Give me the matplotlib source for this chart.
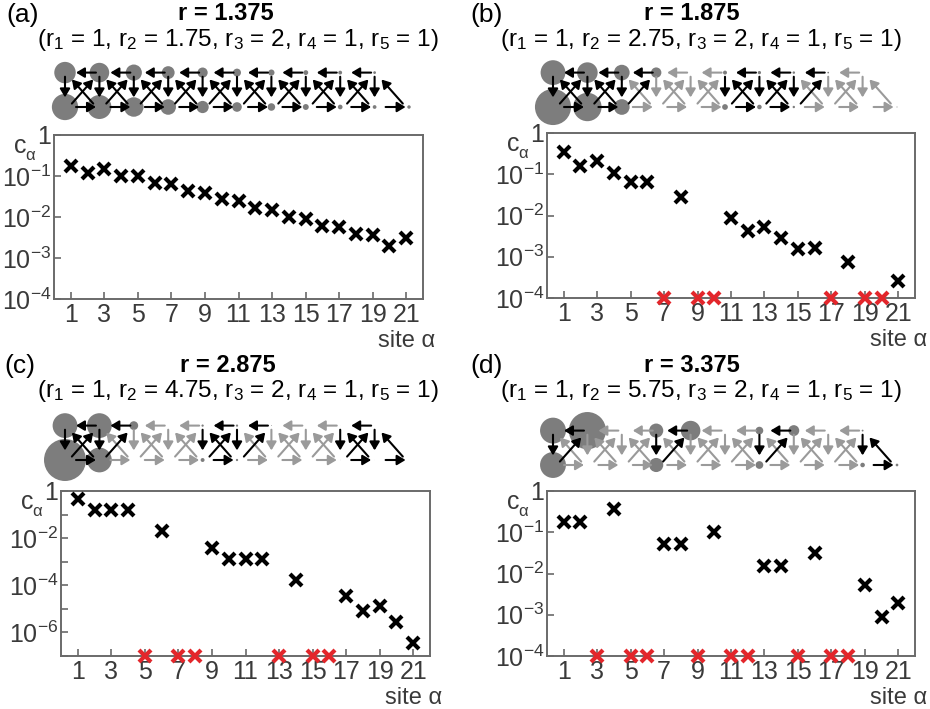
import matplotlib
matplotlib.use("Agg")
import matplotlib.pyplot as plt
import numpy as np
from matplotlib.patches import Circle, FancyArrowPatch
from matplotlib.ticker import FixedLocator, FuncFormatter, NullFormatter

plt.rcParams["font.family"] = ["Liberation Sans", "DejaVu Sans"]
plt.rcParams["mathtext.fontset"] = "custom"
plt.rcParams["mathtext.rm"] = "Liberation Sans"
plt.rcParams["mathtext.it"] = "Liberation Sans:italic"
plt.rcParams["mathtext.bf"] = "Liberation Sans:bold"

# ---- data (c_alpha per site, 0 = empty site) ----
sites = np.arange(1, 22)
c_a = [0.18, 0.12, 0.15, 0.10, 0.099, 0.068, 0.063, 0.043, 0.039, 0.027, 0.024,
       0.0165, 0.0148, 0.010, 0.0091, 0.0061, 0.0057, 0.0038, 0.0037, 0.0020, 0.0031]
c_b = [0.34, 0.16, 0.21, 0.11, 0.064, 0.064, 0, 0.028, 0, 0, 0.0086,
       0.0041, 0.0054, 0.0028, 0.0015, 0.0016, 0, 0.00073, 0, 0, 0.00026]
c_c = [0.46, 0.16, 0.16, 0.16, 0, 0.02, 0, 0, 0.004, 0.00136, 0.00136,
       0.00136, 0, 1.7e-4, 0, 0, 3.5e-5, 8e-6, 1.3e-5, 2.8e-6, 3.7e-7]
c_d = [0.175, 0.175, 0, 0.36, 0, 0, 0.052, 0.052, 0, 0.1, 0,
       0, 0.0156, 0.0156, 0, 0.031, 0, 0, 0.0054, 0.00089, 0.0019]

panel_labels = ["(a)", "(b)", "(c)", "(d)"]
r_totals = ["1.375", "1.875", "2.875", "3.375"]
r2_values = ["1.75", "2.75", "4.75", "5.75"]
y_mins = [1e-4, 1e-4, 1e-7, 1e-4]

W, H = 930, 709
GRAY_TXT = "#3a3a3a"
FRAME = "#6a6a6a"
NODE = "#7d7d7d"
EDGE_OFF = "#9a9a9a"
RED = "#e3262b"
UNIT = 34.4  # px between lattice columns


def px_box(l, t, r, b):
    return [l / W, 1 - b / H, (r - l) / W, (b - t) / H]


def site_xy(s):
    # odd sites on the bottom row, even sites on the top row
    if s % 2 == 1:
        return (s - 1) // 2, 0
    return (s - 2) // 2, 1


def lattice_edges():
    edges = []
    for i in range(9):
        edges.append(("h", 2 * i + 4, 2 * i + 2))   # top i+1 -> top i
        edges.append(("d", 2 * i + 1, 2 * i + 4))   # bottom i -> top i+1
        edges.append(("d", 2 * i + 3, 2 * i + 2))   # bottom i+1 -> top i
    for i in range(10):
        edges.append(("v", 2 * i + 2, 2 * i + 1))   # top i -> bottom i
        edges.append(("h", 2 * i + 1, 2 * i + 3))   # bottom i -> bottom i+1
    edges.append(("d", 21, 20))
    return edges


def draw_lattice(ax, c):
    for s, val in zip(sites, c):
        if val > 0:
            x, y = site_xy(s)
            ax.add_patch(Circle((x, y), 0.9 * np.sqrt(val), color=NODE, lw=0, zorder=1))
    for kind, a, b in lattice_edges():
        xa, ya = site_xy(a)
        xb, yb = site_xy(b)
        lo = min(xa, xb)
        if kind == "h":
            xs = (lo + 0.32, lo + 0.9) if xb > xa else (lo + 0.9, lo + 0.32)
            p0, p1 = (xs[0], ya), (xs[1], yb)
        elif kind == "v":
            p0, p1 = (xa, 0.88), (xa, 0.28)
        else:
            if xb > xa:
                p0, p1 = (lo + 0.2, 0.1), (lo + 0.82, 0.8)
            else:
                p0, p1 = (lo + 0.82, 0.1), (lo + 0.2, 0.8)
        on = c[a - 1] > 0 and c[b - 1] > 0
        ax.add_patch(FancyArrowPatch(
            p0, p1, arrowstyle="-|>,head_length=0.5,head_width=0.3",
            mutation_scale=10, lw=1.5, color="black" if on else EDGE_OFF,
            shrinkA=0, shrinkB=0, zorder=3 if on else 2))


def log_fmt(v, pos):
    e = int(round(np.log10(v)))
    if e == 0:
        return "1"
    return r"10$^{%d}$" % e


fig = plt.figure(figsize=(W / 100, H / 100), dpi=100)

plot_boxes = [(54, 135, 423, 299), (547, 133, 915, 298),
              (61, 491, 430, 656), (547, 491, 915, 656)]
lattice_origin = [(65, 107), (553, 107), (65, 460), (553, 465)]
label_pos = [(6, 15), (470, 15), (4, 366), (470, 366)]
title_x = [226, 692, 228, 692]
sub_x = [238, 701, 238, 701]
title_y = [14, 14, 365, 365]
all_c = [c_a, c_b, c_c, c_d]

for k in range(4):
    c = np.array(all_c[k], dtype=float)
    l, t, r, b = plot_boxes[k]
    ax = fig.add_axes(px_box(l, t, r, b))
    ymin = y_mins[k]
    nz = c > 0
    ax.plot(sites[nz], c[nz], "x", color="black", ms=8, mew=3, zorder=4)
    ax.plot(sites[~nz], np.full((~nz).sum(), ymin), "x", color=RED, ms=8, mew=3,
            clip_on=False, zorder=5)
    ax.set_yscale("log")
    ax.set_ylim(ymin, 1)
    ax.set_xlim(0, 22)
    ax.set_xticks(np.arange(1, 22, 2))
    ax.set_xticklabels([str(v) for v in range(1, 22, 2)])
    decades = 10.0 ** np.arange(int(np.log10(ymin)), 1)
    if k == 2:
        ax.yaxis.set_major_locator(FixedLocator(decades[::-2]))
        ax.yaxis.set_minor_locator(FixedLocator(decades[-2::-2]))
    else:
        ax.yaxis.set_major_locator(FixedLocator(decades))
        ax.yaxis.set_minor_locator(FixedLocator([]))
    ax.yaxis.set_major_formatter(FuncFormatter(log_fmt))
    ax.yaxis.set_minor_formatter(NullFormatter())
    ax.tick_params(which="both", direction="in", length=5, width=1.2, color=FRAME,
                   labelsize=18, labelcolor=GRAY_TXT, pad=2)
    ax.tick_params(axis="x", pad=3)
    for sp in ax.spines.values():
        sp.set_color(FRAME)
        sp.set_linewidth(1.4)

    fig.text((l - 40) / W, 1 - (t + 11) / H, "c", fontsize=18,
             color=GRAY_TXT, ha="left", va="center")
    fig.text((l - 29) / W, 1 - (t + 20) / H, "α", fontsize=12,
             color=GRAY_TXT, ha="left", va="center")
    fig.text((r + 12) / W, 1 - (b + 42) / H, "site α", fontsize=17,
             color=GRAY_TXT, ha="right", va="center")

    # lattice sketch above the plot
    x0, y0 = lattice_origin[k]
    lax = fig.add_axes(px_box(x0 - UNIT, y0 + UNIT - 3 * UNIT, x0 + 11 * UNIT, y0 + UNIT))
    lax.set_xlim(-1, 11)
    lax.set_ylim(-1, 2)
    lax.set_aspect("equal")
    lax.axis("off")
    draw_lattice(lax, c)

    lx, ly = label_pos[k]
    fig.text(lx / W, 1 - ly / H, panel_labels[k], fontsize=19, ha="left", va="center")
    fig.text(title_x[k] / W, 1 - title_y[k] / H, "r = " + r_totals[k], fontsize=17,
             fontweight="bold", ha="center", va="center")
    sub = (r"(r$_1$ = 1, r$_2$ = %s, r$_3$ = 2, r$_4$ = 1, r$_5$ = 1)" % r2_values[k])
    fig.text(sub_x[k] / W, 1 - (title_y[k] + 26) / H, sub, fontsize=17.5,
             ha="center", va="center")

fig.savefig("out.png", dpi=100)
